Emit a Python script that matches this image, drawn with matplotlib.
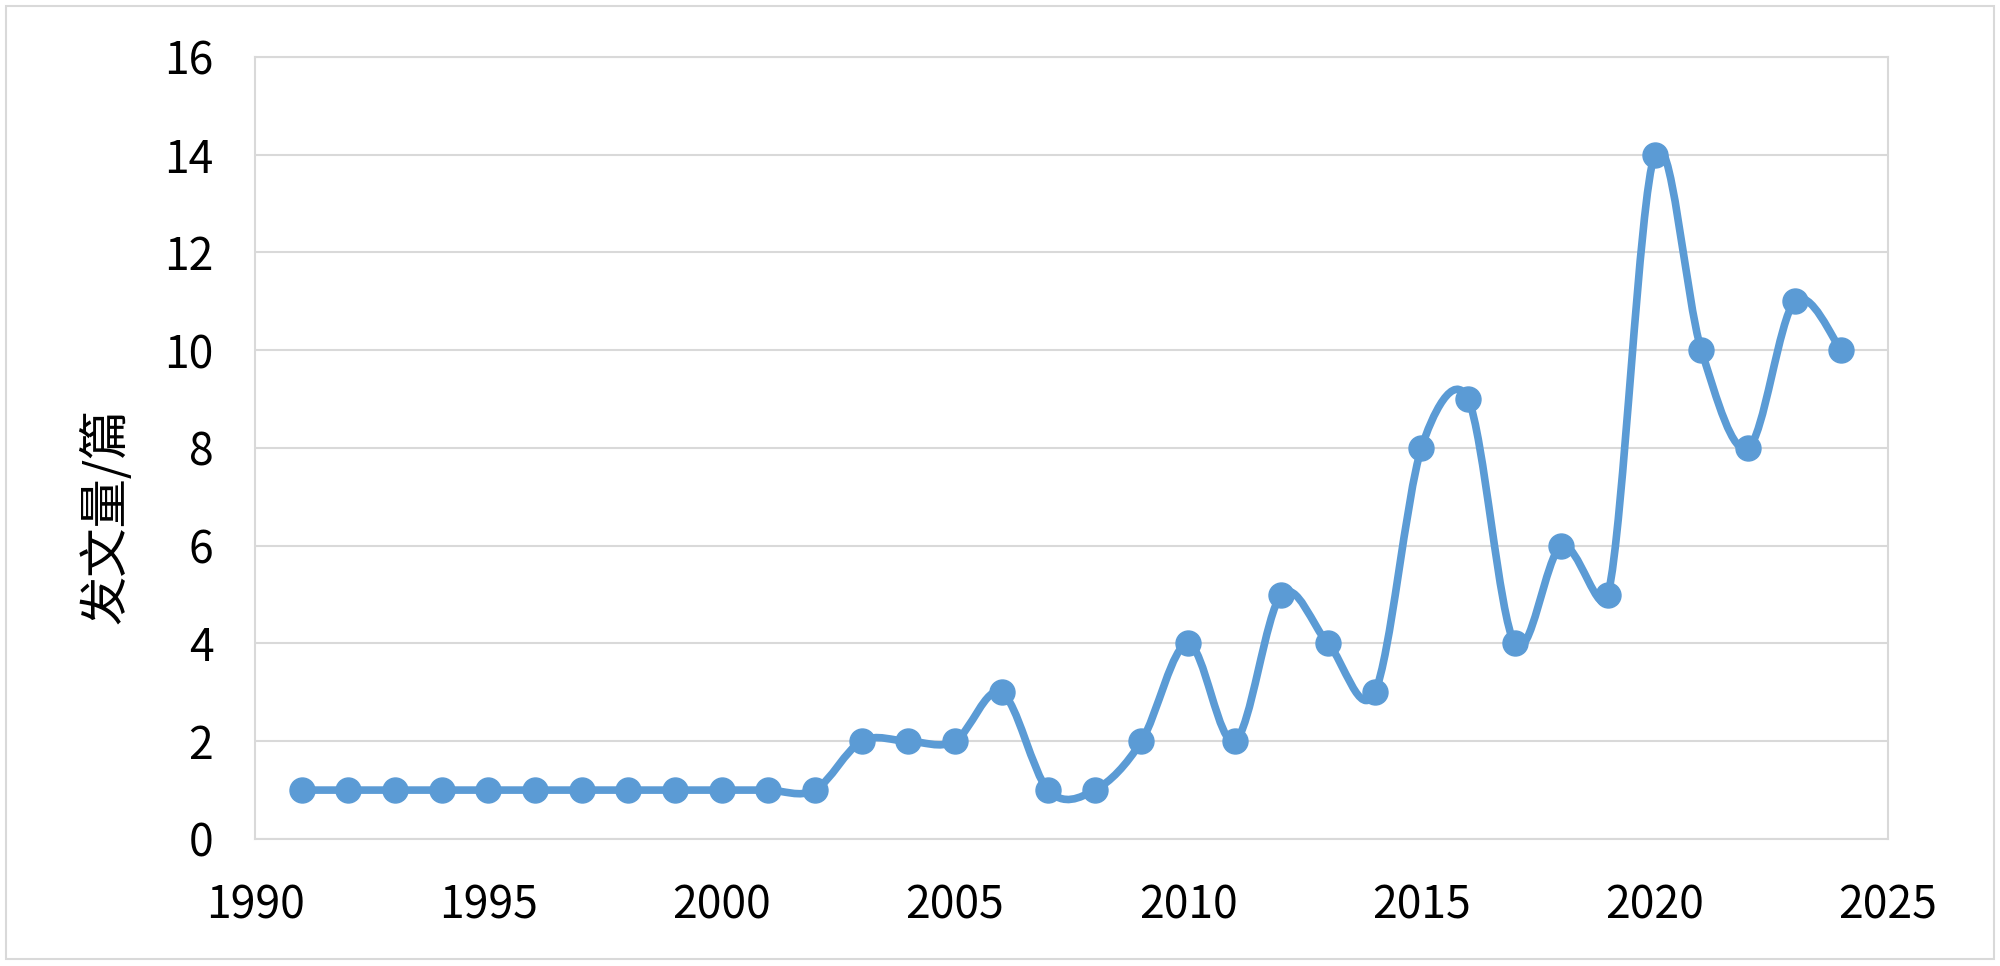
import numpy as np
import matplotlib.pyplot as plt
from matplotlib.path import Path
from matplotlib.patches import PathPatch, Rectangle

plt.rcParams['font.family'] = ['Noto Sans CJK SC', 'DejaVu Sans']

years = list(range(1991, 2025))
counts = [1, 1, 1, 1, 1, 1, 1, 1, 1, 1, 1, 1,
          2, 2, 2, 3, 1, 1, 2, 4, 2, 5, 4, 3,
          8, 9, 4, 6, 5, 14, 10, 8, 11, 10]

blue = '#5B9BD5'
grey = '#D9D9D9'

fig = plt.figure(figsize=(20, 9.66), dpi=100)
ax = fig.add_axes([0.1275, 0.1315, 0.8165, 0.8095])
ax.set_xlim(1990, 2025)
ax.set_ylim(0, 16)

# excel style smoothing: bezier, control offset (p2-p0)/6 capped at half the segment
# distances worked out in pixel space
sx = 1633 / 35
sy = 782 / 16
x = np.array(years, dtype=float)
y = np.array(counts, dtype=float)
px, py = x * sx, y * sy
n = len(x)


def offset(a, b, seg):
    dx, dy = (px[b] - px[a]) / 6, (py[b] - py[a]) / 6
    d = np.hypot(dx, dy)
    if d > seg / 2:
        dx, dy = dx * seg / 2 / d, dy * seg / 2 / d
    return dx, dy


verts = [(x[0], y[0])]
codes = [Path.MOVETO]
for i in range(n - 1):
    p0 = i - 1 if i > 0 else 0
    p3 = i + 2 if i + 2 < n else n - 1
    seg = np.hypot(px[i + 1] - px[i], py[i + 1] - py[i])
    d1 = offset(p0, i + 1, seg)
    d2 = offset(i, p3, seg)
    c1 = ((px[i] + d1[0]) / sx, (py[i] + d1[1]) / sy)
    c2 = ((px[i + 1] - d2[0]) / sx, (py[i + 1] - d2[1]) / sy)
    verts += [c1, c2, (x[i + 1], y[i + 1])]
    codes += [Path.CURVE4] * 3
ax.add_patch(PathPatch(Path(verts, codes), facecolor='none', edgecolor=blue,
                       lw=5.5, capstyle='round', joinstyle='round', zorder=3))
ax.plot(years, counts, 'o', color=blue, ms=18, zorder=4)

ax.set_xticks(range(1990, 2026, 5))
ax.set_yticks(range(0, 17, 2))
ax.grid(axis='y', color=grey, lw=1.5)
ax.set_axisbelow(True)
for s in ax.spines.values():
    s.set_color(grey)
    s.set_linewidth(1.5)
ax.tick_params(length=0, labelsize=32)
ax.tick_params(axis='x', pad=31)
ax.tick_params(axis='y', pad=30)
ax.set_ylabel('发文量/篇', fontsize=35.5)
ax.yaxis.set_label_coords(-0.0747, 0.413)

fig.patches.append(Rectangle((0.003, 0.007), 0.994, 0.987, transform=fig.transFigure,
                             fill=False, edgecolor=grey, lw=1.5))

plt.savefig('out.png', dpi=100)
